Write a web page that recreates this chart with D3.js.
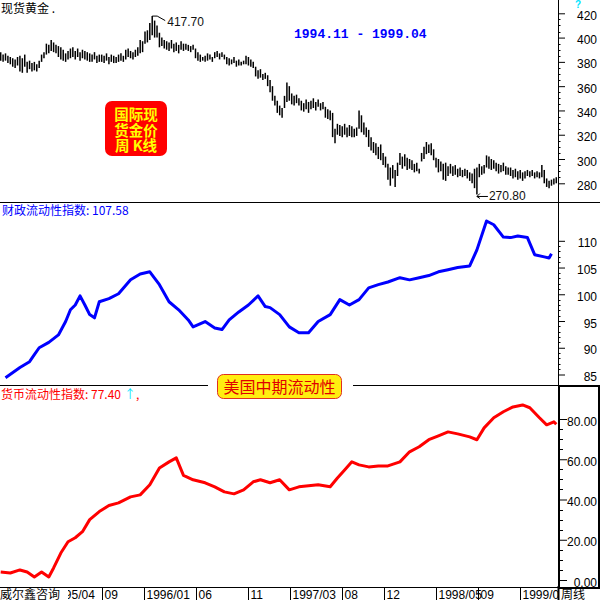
<!DOCTYPE html>
<html><head><meta charset="utf-8">
<script src="https://cdn.jsdelivr.net/npm/d3@7"></script>
<style>body{margin:0;background:#fff}svg{display:block}</style>
</head><body>
<svg id="c" width="600" height="600"></svg>
<script>
// ---- Gold weekly bars (high / low), Nov 1994 .. Apr 1999 ----
const goldHigh = [
388,386,387,385,384, 383,382,384, 385,383,386,380, 381,379,380,378,381,
386,388,395,394, 398,396,394, 393,392,390,387,389, 391,392,389,391,388,390,389,
388,387,386,388,385,386, 386,385,387,384,386,385,384,386,387,385,
390,391,389,388,390,392, 398,397, 405,406, 412,417.7, 414,410, 404,400,
398,397,396,398,395,396,394,397,395,
395,394,393,394, 391,388,386,384, 385,387,386,384, 388,389,387,388,386,
384,383,382,384,381,382,380,381, 385,384,382,380, 376,373,374,370,371,
369,365,360,352, 348,344,342, 352,363,360, 354,352,353,350, 348,346,349,347,
348,350,347,349,346,347, 343,341,340, 338,325,
329,328,327,329,326,328,327,325,326, 340,336,330,326, 324,318,314,
313,310,312,305,302, 296,293,295,291,297, 305,302,304,301,300, 299,296,297,292,
305,310,314,312,313,308, 301,300,298,296,297,294, 296,294,295,292,293,291,292,
291,289,288, 292,293, 296,294,295, 303,302,300,299, 297,296,295,297,294,293,
293,291,292,290,291,289,290, 291,290,291,289,290,289, 295,291, 284,282,283,284,285
];
const goldLow = [
381,380,381,379,378, 376,375,377, 372,371,376,371, 374,372,373,372,375,
380,383,386,387, 389,388,387, 384,382,381,380,382, 383,384,382,384,381,383,382,
381,380,380,382,379,380, 380,379,381,378,380,379,379,380,381,380,
382,384,383,382,384,385, 387,388, 395,396, 398,402, 400,400, 392,393,
391,390,389,391,388,389,387,390,389,
390,389,388,390, 383,381,380,381, 380,381,382,380, 383,384,382,384,382,
378,377,378,379,376,377,377,378, 378,377,376,375, 368,366,367,365,366,
360,355,348,344, 338,336,334, 342,347,348, 345,344,346,344, 340,339,341,338,
341,342,340,343,340,341, 334,333,332, 318,313,
320,319,318,320,318,319,318,318,319, 325,322,320,318, 310,307,305,
303,300,299,295,293, 283,278,284,277,286, 295,292,294,291,292, 291,289,290,288,
298,300,304,305,303,299, 293,289,290,283,282,286, 288,286,287,285,286,285,286,
284,282,280, 276,270.8, 285,287,288, 293,292,291,292, 290,288,289,290,287,287,
286,284,285,283,284,282,284, 286,285,286,284,285,284, 285,280, 277,276,278,279,280
];
// ---- Fiscal liquidity index (blue), week index / value ----
const fiscalWeek = [2,8,12,14,16,20,24,27,29,31,33,35,37,39,41,45,49,54,58,62,66,70,74,78,80,85,89,92,95,99,103,107,110,112,116,120,124,128,132,137,141,145,149,153,157,161,166,170,174,178,182,186,190,195,198,202,205,209,212,215,219,222,226,228,229];
const fiscalValue = [84.4,86.3,87.4,88.7,90.0,91.0,92.4,94.9,97.1,98.0,99.7,98.0,96.2,95.6,98.6,99.2,100.1,102.7,103.8,104.2,101.8,98.6,97.1,95.2,93.9,94.9,93.7,93.4,95.2,96.7,98.0,99.7,97.7,97.5,96.2,93.9,92.8,92.8,94.9,96.2,99.0,98.0,99.0,101.2,101.8,102.3,103.1,102.7,103.1,103.5,104.2,104.6,105.0,105.3,108.3,113.7,113.0,110.7,110.6,110.9,110.6,107.4,107.0,106.8,107.58];
// ---- Money liquidity index (red), week index / value ----
const moneyWeek = [0,4,8,11,14,17,20,22,25,28,31,34,37,41,45,49,54,58,62,66,70,73,76,80,85,89,93,97,101,105,108,112,116,120,124,128,132,137,140,143,146,149,153,157,161,166,170,174,178,182,186,190,195,198,201,205,209,213,217,220,224,227,230,231];
const moneyValue = [4.0,3.5,5.0,4.0,1.5,4.0,1.5,6.0,13.4,19.0,21.0,24.0,30.0,34.0,37.0,38.3,41.3,42.3,47.3,55.7,58.7,60.7,52.0,49.8,48.3,46.3,43.8,42.8,44.8,48.8,49.8,48.3,49.8,44.8,46.3,46.8,47.3,46.3,50.7,54.7,58.7,57.2,56.2,56.7,56.7,58.7,63.7,66.2,69.7,71.6,73.6,72.6,71.1,69.7,75.6,80.6,83.6,86.0,87.0,85.6,80.6,77.1,78.6,77.4];
// ---- ticks ----
const goldTicks = [280,300,320,340,360,380,400,420];
const fiscalTicks = [85,90,95,100,105,110];
const moneyTicks = [0,20,40,60,80];
const monthTicks = ["1995-04-01","1995-09-01","1996-01-01","1996-06-01","1996-11-01","1997-03-01","1997-08-01","1997-12-01","1998-05-01","1998-09-01","1999-01-01"];
const monthLabels = ["1995/04","09","1996/01","06","11","1997/03","08","12","1998/05","09","1999/01"];

const NUM = "'Liberation Sans', Arial, sans-serif";
const CJK = "'Noto Sans CJK SC', sans-serif";
const svg = d3.select("#c");
const parse = d3.timeParse("%Y-%m-%d");
const weeks = goldHigh.map((_, i) => d3.timeDay.offset(new Date(1994, 10, 11), i * 7));
const x = d3.scaleTime().domain([new Date(1994, 10, 9), new Date(1999, 3, 21)]).range([0, 558]);
const yTop = d3.scaleLinear().domain([280, 420]).range([183.3, 13.3]);
const yMid = d3.scaleLinear().domain([85, 110]).range([374.5, 240.8]);
const yBot = d3.scaleLinear().domain([0, 80]).range([580, 419]);

// ---- frame lines ----
svg.append("line").attr("x1", 0).attr("x2", 600).attr("y1", 202.5).attr("y2", 202.5).attr("stroke", "#000");
svg.append("line").attr("x1", 0).attr("x2", 600).attr("y1", 385.5).attr("y2", 385.5).attr("stroke", "#000");
svg.append("line").attr("x1", 0).attr("x2", 600).attr("y1", 587.5).attr("y2", 587.5).attr("stroke", "#000");
svg.append("line").attr("x1", 558.5).attr("x2", 558.5).attr("y1", 0).attr("y2", 600).attr("stroke", "#000");

// ---- gold bars ----
svg.append("g").selectAll("line").data(weeks).join("line")
  .attr("x1", d => x(d)).attr("x2", d => x(d))
  .attr("y1", (d, i) => yTop(goldLow[i])).attr("y2", (d, i) => yTop(goldHigh[i]))
  .attr("stroke", "#000").attr("stroke-width", 1.5);

// peak / low annotations
const iMax = d3.maxIndex(goldHigh), iMin = d3.minIndex(goldLow);
const px = x(weeks[iMax]), py = yTop(goldHigh[iMax]);
svg.append("path").attr("d", `M${px},${py}H${px + 5}L${px + 13},${py + 4.5}`).attr("fill", "none").attr("stroke", "#000");
svg.append("text").attr("x", px + 15).attr("y", py + 10).attr("font-family", NUM).attr("font-size", 12).attr("fill", "#111").text(d3.format(".2f")(goldHigh[iMax]));
const lx = x(weeks[iMin]), ly = yTop(goldLow[iMin]) + 2;
svg.append("path").attr("d", `M${lx + 11},${ly}H${lx}M${lx + 3},${ly - 3}L${lx},${ly}L${lx + 3},${ly + 2}`).attr("fill", "none").attr("stroke", "#000");
svg.append("text").attr("x", lx + 12).attr("y", ly + 4).attr("font-family", NUM).attr("font-size", 12).attr("fill", "#111").text(d3.format(".2f")(goldLow[iMin]));

// ---- blue line ----
const fiscal = fiscalWeek.map((w, i) => ({ d: weeks[w], v: fiscalValue[i] }));
svg.append("path").datum(fiscal)
  .attr("d", d3.line().x(d => x(d.d)).y(d => yMid(d.v)))
  .attr("fill", "none").attr("stroke", "#0000ff").attr("stroke-width", 3).attr("stroke-linejoin", "round");

// ---- red line ----
const money = moneyWeek.map((w, i) => ({ d: weeks[w], v: moneyValue[i] }));
svg.append("path").datum(money)
  .attr("d", d3.line().x(d => x(d.d)).y(d => yBot(d.v)))
  .attr("fill", "none").attr("stroke", "#ff0000").attr("stroke-width", 3).attr("stroke-linejoin", "round");

// ---- right axes ----
function rightAxis(scale, ticks, fmt, minorStep, x0, tickLen, minorLen) {
  const g = svg.append("g").attr("transform", `translate(${x0},0)`)
    .call(d3.axisRight(scale).tickValues(ticks).tickSize(tickLen).tickFormat(fmt));
  g.select(".domain").remove();
  g.selectAll(".tick line").attr("stroke", "#000");
  g.selectAll(".tick text").attr("x", 597 - x0).attr("text-anchor", "end").attr("dy", "0.5em")
    .attr("font-family", NUM).attr("font-size", 12).attr("fill", "#000");
  const [a, b] = scale.domain();
  const minors = d3.range(a, b + 0.001, minorStep).filter(v => !ticks.includes(v));
  svg.append("g").selectAll("line").data(minors).join("line")
    .attr("x1", x0).attr("x2", x0 + minorLen)
    .attr("y1", d => Math.round(scale(d)) + 0.5).attr("y2", d => Math.round(scale(d)) + 0.5)
    .attr("stroke", "#000");
}
rightAxis(yTop, goldTicks, d3.format("d"), 5, 559, 6, 1.5);
rightAxis(yMid, fiscalTicks, d3.format("d"), 1, 559, 6, 1.5);

// bottom panel box
svg.append("rect").attr("x", 559).attr("y", 386).attr("width", 40).attr("height", 202)
  .attr("fill", "none").attr("stroke", "#000").attr("stroke-width", 2);
rightAxis(yBot, moneyTicks, d3.format(".2f"), 5, 560, 7, 3);

// ---- time axis ----
const tg = svg.append("g");
monthTicks.forEach((m, i) => {
  const tx = Math.round(x(parse(m))) + 0.5;
  tg.append("line").attr("x1", tx).attr("x2", tx).attr("y1", 588).attr("y2", 600).attr("stroke", "#000");
  tg.append("text").attr("x", tx + 2).attr("y", 598.5).attr("font-family", NUM).attr("font-size", 12).attr("fill", "#000").text(monthLabels[i]);
});
svg.append("rect").attr("x", 0).attr("y", 588).attr("width", 68).attr("height", 12).attr("fill", "#fff");
svg.append("text").attr("x", 0).attr("y", 598.5).attr("font-family", CJK).attr("font-size", 12).attr("fill", "#000").text("威尔鑫咨询");
svg.append("rect").attr("x", 559).attr("y", 589).attr("width", 41).attr("height", 11).attr("fill", "#fff");
svg.append("line").attr("x1", 558.5).attr("x2", 558.5).attr("y1", 586).attr("y2", 600).attr("stroke", "#000").attr("stroke-width", 2);
svg.append("text").attr("x", 561).attr("y", 598.5).attr("font-family", CJK).attr("font-size", 12).attr("fill", "#000").text("周线");

// ---- texts ----
svg.append("text").attr("x", 1).attr("y", 13).attr("font-family", CJK).attr("font-size", 12).attr("fill", "#000").text("现货黄金 .");
svg.append("text").attr("x", 575).attr("y", 8).attr("font-family", NUM).attr("font-weight", "bold").attr("font-size", 10).attr("fill", "#00e5ff").text("?");
svg.append("text").attr("x", 294).attr("y", 38).attr("font-family", "'Liberation Mono', monospace").attr("font-weight", "bold").attr("font-size", 13).attr("fill", "#0000ff").attr("xml:space", "preserve").text("1994.11 - 1999.04");

// red badge
svg.append("rect").attr("x", 105).attr("y", 101).attr("width", 62).attr("height", 55).attr("rx", 7).attr("fill", "#ff0000");
["国际现", "货金价", "周 K线"].forEach((t, i) => {
  svg.append("text").attr("x", 136).attr("y", 120 + i * 15.5).attr("text-anchor", "middle")
    .attr("font-family", CJK).attr("font-weight", "bold").attr("font-size", 14.5).attr("fill", "#ffff00").attr("xml:space", "preserve").text(t);
});

// middle label
svg.append("text").attr("x", 2).attr("y", 215).attr("font-family", CJK).attr("font-size", 12).attr("fill", "#0000ff").text("财政流动性指数: " + d3.format(".2f")(fiscalValue[fiscalValue.length - 1]));

// yellow label
svg.append("rect").attr("x", 208).attr("y", 374).attr("width", 145).attr("height", 25).attr("fill", "#fff");
svg.append("rect").attr("x", 217.5).attr("y", 374.5).attr("width", 124).attr("height", 24).attr("rx", 6).attr("fill", "#ffee10").attr("stroke", "#e03020");
svg.append("text").attr("x", 279.5).attr("y", 392.5).attr("text-anchor", "middle").attr("font-family", CJK).attr("font-size", 16).attr("fill", "#e00000").text("美国中期流动性");

// bottom label
const bl = svg.append("text").attr("x", 1).attr("y", 399).attr("font-family", CJK).attr("font-size", 12).attr("fill", "#ff0000");
bl.append("tspan").text("货币流动性指数: " + d3.format(".2f")(moneyValue[moneyValue.length - 1]));
bl.append("tspan").attr("fill", "#00e5ff").attr("dx", 3).text("↑");
bl.append("tspan").attr("fill", "#ff0000").text(",");
</script>
</body></html>
